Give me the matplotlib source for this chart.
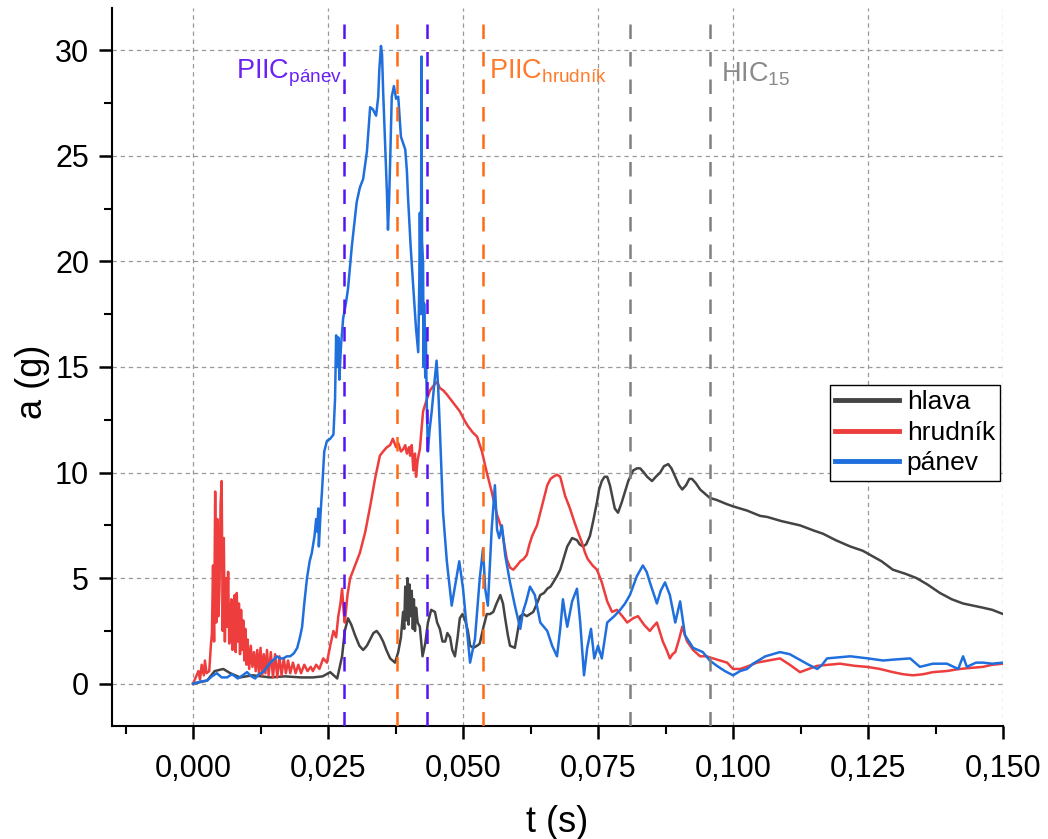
import numpy as np
import matplotlib.pyplot as plt
from matplotlib.ticker import FixedLocator, MultipleLocator

plt.rcParams['font.family'] = ['Liberation Sans', 'DejaVu Sans']
plt.rcParams['mathtext.fontset'] = 'custom'
plt.rcParams['mathtext.rm'] = 'Liberation Sans'
plt.rcParams['mathtext.it'] = 'Liberation Sans:italic'

# hlava (head)
t_hlava = [0.0000, 0.0026, 0.0040, 0.0056, 0.0069, 0.0087, 0.0110, 0.0143, 0.0170, 0.0200,
           0.0222, 0.0240, 0.0254, 0.0267, 0.0276, 0.0281, 0.0287, 0.0293, 0.0300, 0.0308,
           0.0315, 0.0322, 0.0328, 0.0334, 0.0340, 0.0346, 0.0352, 0.0358, 0.0365, 0.0374,
           0.0380, 0.0385, 0.0389, 0.0391, 0.0393, 0.0395, 0.0397, 0.0399, 0.0401, 0.0403,
           0.0405, 0.0407, 0.0409, 0.0411, 0.0413, 0.0416, 0.0420, 0.0425, 0.0430, 0.0435,
           0.0441, 0.0448, 0.0452, 0.0457, 0.0462, 0.0467, 0.0471, 0.0476, 0.0480, 0.0485,
           0.0490, 0.0494, 0.0499, 0.0504, 0.0509, 0.0513, 0.0519, 0.0526, 0.0531, 0.0537,
           0.0544, 0.0550, 0.0556, 0.0562, 0.0569, 0.0574, 0.0578, 0.0583, 0.0587, 0.0596,
           0.0606, 0.0612, 0.0618, 0.0624, 0.0630, 0.0637, 0.0643, 0.0650, 0.0656, 0.0662,
           0.0667, 0.0674, 0.0680, 0.0687, 0.0693, 0.0702, 0.0711, 0.0716, 0.0722, 0.0728,
           0.0735, 0.0741, 0.0748, 0.0752, 0.0757, 0.0762, 0.0767, 0.0772, 0.0776, 0.0781,
           0.0787, 0.0794, 0.0800, 0.0806, 0.0815, 0.0822, 0.0828, 0.0835, 0.0841, 0.0850,
           0.0857, 0.0865, 0.0872, 0.0880, 0.0886, 0.0893, 0.0900, 0.0906, 0.0913, 0.0919,
           0.0924, 0.0931, 0.0939, 0.0948, 0.0957, 0.0970, 0.0989, 0.1000, 0.1026, 0.1050,
           0.1063, 0.1090, 0.1124, 0.1150, 0.1167, 0.1190, 0.1217, 0.1240, 0.1254, 0.1275,
           0.1296, 0.1320, 0.1340, 0.1360, 0.1383, 0.1405, 0.1426, 0.1445, 0.1463, 0.1480,
           0.1500]
a_hlava = [0.0, 0.15, 0.6, 0.7, 0.5, 0.3, 0.4, 0.3, 0.35, 0.3,
           0.3, 0.35, 0.55, 0.25, 1.3, 2.5, 3.1, 2.8, 2.3, 1.8,
           1.6, 1.8, 2.1, 2.4, 2.5, 2.3, 2.0, 1.6, 1.2, 1.0,
           1.5, 2.2, 3.4, 2.6, 4.6, 3.0, 5.0, 2.8, 4.7, 3.2,
           4.4, 2.6, 4.0, 2.5, 3.6, 2.9, 2.7, 1.3, 1.9, 2.9,
           3.5, 3.4, 2.9, 2.6, 2.0, 2.0, 2.4, 2.2, 1.6, 1.3,
           2.2, 3.1, 3.3, 3.0, 2.5, 1.8, 1.7, 1.8, 1.9, 2.6,
           3.3, 3.3, 3.4, 3.8, 4.2, 3.8, 3.1, 2.3, 1.8, 1.7,
           3.2, 3.3, 3.2, 3.3, 3.4, 3.8, 4.2, 4.3, 4.5, 4.6,
           4.8, 5.1, 5.4, 6.0, 6.5, 6.9, 6.8, 6.6, 6.5, 6.6,
           7.0, 7.7, 8.6, 9.2, 9.6, 9.8, 9.8, 9.4, 8.9, 8.3,
           8.1, 8.6, 9.1, 9.6, 10.1, 10.2, 10.2, 10.0, 9.8, 9.6,
           9.8, 10.0, 10.3, 10.4, 10.2, 9.8, 9.4, 9.2, 9.4, 9.7,
           9.7, 9.5, 9.2, 9.0, 8.8, 8.7, 8.5, 8.4, 8.2, 7.95,
           7.9, 7.7, 7.5, 7.25, 7.1, 6.8, 6.5, 6.3, 6.1, 5.8,
           5.4, 5.2, 5.0, 4.7, 4.3, 4.0, 3.8, 3.7, 3.6, 3.5,
           3.3]

# hrudnik (chest)
t_hrudnik = [0.0000, 0.0005, 0.0010, 0.0013, 0.0016, 0.0020, 0.0022, 0.0025, 0.0030, 0.0033,
             0.0035, 0.0037, 0.0039, 0.0041, 0.0043, 0.0045, 0.0047, 0.0049, 0.0051, 0.0053,
             0.0055, 0.0057, 0.0059, 0.0061, 0.0063, 0.0065, 0.0067, 0.0069, 0.0071, 0.0073,
             0.0075, 0.0077, 0.0079, 0.0081, 0.0083, 0.0085, 0.0087, 0.0089, 0.0091, 0.0093,
             0.0095, 0.0097, 0.0099, 0.0101, 0.0104, 0.0107, 0.0110, 0.0113, 0.0116, 0.0119,
             0.0122, 0.0125, 0.0128, 0.0131, 0.0134, 0.0137, 0.0140, 0.0144, 0.0148, 0.0152,
             0.0156, 0.0160, 0.0164, 0.0168, 0.0172, 0.0176, 0.0180, 0.0185, 0.0190, 0.0195,
             0.0200, 0.0206, 0.0212, 0.0218, 0.0222, 0.0228, 0.0234, 0.0241, 0.0248, 0.0254,
             0.0260, 0.0265, 0.0269, 0.0273, 0.0276, 0.0279, 0.0281, 0.0286, 0.0291, 0.0300,
             0.0309, 0.0319, 0.0328, 0.0337, 0.0346, 0.0352, 0.0359, 0.0365, 0.0370, 0.0376,
             0.0380, 0.0385, 0.0389, 0.0393, 0.0396, 0.0400, 0.0402, 0.0405, 0.0408, 0.0411,
             0.0413, 0.0416, 0.0420, 0.0426, 0.0432, 0.0439, 0.0445, 0.0452, 0.0457, 0.0463,
             0.0470, 0.0476, 0.0485, 0.0494, 0.0502, 0.0509, 0.0518, 0.0526, 0.0535, 0.0544,
             0.0553, 0.0563, 0.0572, 0.0577, 0.0581, 0.0587, 0.0593, 0.0600, 0.0606, 0.0612,
             0.0618, 0.0623, 0.0628, 0.0637, 0.0646, 0.0656, 0.0662, 0.0667, 0.0674, 0.0680,
             0.0685, 0.0689, 0.0698, 0.0707, 0.0714, 0.0720, 0.0726, 0.0731, 0.0740, 0.0748,
             0.0757, 0.0767, 0.0776, 0.0785, 0.0795, 0.0804, 0.0815, 0.0824, 0.0835, 0.0846,
             0.0852, 0.0859, 0.0865, 0.0870, 0.0877, 0.0883, 0.0888, 0.0893, 0.0900, 0.0906,
             0.0911, 0.0915, 0.0926, 0.0939, 0.0951, 0.0963, 0.0976, 0.0989, 0.1000, 0.1013,
             0.1030, 0.1044, 0.1065, 0.1087, 0.1105, 0.1124, 0.1140, 0.1156, 0.1178, 0.1198,
             0.1225, 0.1248, 0.1272, 0.1296, 0.1315, 0.1333, 0.1352, 0.1370, 0.1395, 0.1420,
             0.1440, 0.1463, 0.1480, 0.1500]
a_hrudnik = [0.0, 0.3, 0.6, 0.2, 0.9, 0.4, 1.1, 0.5, 0.6, 1.8,
             2.4, 5.6, 2.0, 9.1, 2.9, 7.8, 3.2, 4.5, 8.5, 9.6,
             2.5, 6.9, 2.0, 5.0, 2.7, 5.3, 1.9, 3.1, 4.0, 1.6,
             3.4, 4.2, 1.5, 4.3, 2.0, 3.8, 1.4, 3.5, 1.6, 3.0,
             1.1, 2.6, 0.9, 2.1, 0.7, 1.8, 0.8, 1.5, 0.6, 1.6,
             0.5, 1.7, 0.4, 1.4, 0.5, 1.6, 0.4, 1.5, 0.3, 1.4,
             0.3, 1.3, 0.4, 1.2, 0.5, 1.1, 0.5, 1.0, 0.5, 0.9,
             0.5, 0.9, 0.6, 0.8, 0.6, 0.9, 0.7, 1.2, 1.0, 1.8,
             2.5, 2.2, 3.2, 3.8, 4.5, 3.4, 2.9, 4.2, 5.0, 5.6,
             6.2, 7.2, 8.4, 9.7, 10.8, 11.0, 11.2, 11.3, 11.6, 11.2,
             11.4, 11.0, 11.1, 11.3, 10.9, 11.2, 10.8, 11.3, 10.1, 10.9,
             9.8, 10.6, 11.1, 12.9, 13.4, 13.9, 14.1, 14.3, 14.0, 13.9,
             13.7, 13.5, 13.2, 12.9, 12.5, 12.2, 11.9, 11.7, 11.0, 10.0,
             9.1, 8.0, 7.3, 6.5, 5.9, 5.5, 5.4, 5.6, 5.8, 5.9,
             6.1, 6.6, 7.0, 7.5, 8.4, 9.4, 9.7, 9.8, 9.9, 9.8,
             9.3, 8.9, 8.3, 7.6, 7.1, 6.7, 6.2, 5.9, 5.6, 5.4,
             4.8, 3.9, 3.4, 3.5, 3.2, 2.9, 3.1, 3.2, 2.8, 2.5,
             2.7, 2.9, 2.4, 2.0, 1.6, 1.2, 1.4, 1.5, 2.1, 2.7,
             2.3, 2.0, 1.6, 1.3, 1.3, 1.2, 1.1, 1.0, 0.7, 0.7,
             0.85, 1.0, 1.1, 1.2, 0.9, 0.55, 0.7, 0.85, 0.9, 0.95,
             0.85, 0.8, 0.7, 0.55, 0.45, 0.4, 0.45, 0.55, 0.6, 0.7,
             0.75, 0.8, 0.9, 0.95]

# panev (pelvis)
t_panev = [0.0000, 0.0013, 0.0026, 0.0035, 0.0044, 0.0053, 0.0063, 0.0072, 0.0083, 0.0092,
           0.0100, 0.0108, 0.0115, 0.0122, 0.0130, 0.0137, 0.0143, 0.0150, 0.0155, 0.0161,
           0.0167, 0.0174, 0.0180, 0.0187, 0.0193, 0.0198, 0.0202, 0.0206, 0.0211, 0.0216,
           0.0220, 0.0225, 0.0228, 0.0230, 0.0232, 0.0233, 0.0236, 0.0239, 0.0243, 0.0248,
           0.0254, 0.0260, 0.0263, 0.0265, 0.0267, 0.0269, 0.0271, 0.0274, 0.0278, 0.0283,
           0.0287, 0.0294, 0.0303, 0.0309, 0.0315, 0.0322, 0.0328, 0.0333, 0.0339, 0.0343,
           0.0345, 0.0348, 0.0350, 0.0352, 0.0356, 0.0359, 0.0361, 0.0363, 0.0365, 0.0368,
           0.0372, 0.0376, 0.0380, 0.0385, 0.0393, 0.0396, 0.0398, 0.0403, 0.0407, 0.0413,
           0.0417, 0.0419, 0.0420, 0.0422, 0.0423, 0.0424, 0.0426, 0.0427, 0.0428, 0.0430,
           0.0431, 0.0433, 0.0435, 0.0438, 0.0442, 0.0446, 0.0451, 0.0454, 0.0457, 0.0463,
           0.0470, 0.0479, 0.0485, 0.0493, 0.0500, 0.0507, 0.0513, 0.0522, 0.0531, 0.0537,
           0.0541, 0.0546, 0.0553, 0.0559, 0.0563, 0.0567, 0.0572, 0.0578, 0.0587, 0.0596,
           0.0606, 0.0611, 0.0617, 0.0624, 0.0633, 0.0643, 0.0656, 0.0665, 0.0674, 0.0680,
           0.0685, 0.0689, 0.0693, 0.0702, 0.0711, 0.0717, 0.0724, 0.0730, 0.0737, 0.0743,
           0.0750, 0.0757, 0.0767, 0.0780, 0.0791, 0.0800, 0.0809, 0.0822, 0.0833, 0.0840,
           0.0846, 0.0859, 0.0866, 0.0874, 0.0883, 0.0893, 0.0902, 0.0911, 0.0926, 0.0944,
           0.0957, 0.0970, 0.0985, 0.1000, 0.1013, 0.1026, 0.1037, 0.1060, 0.1087, 0.1105,
           0.1119, 0.1140, 0.1156, 0.1165, 0.1174, 0.1195, 0.1217, 0.1250, 0.1278, 0.1300,
           0.1328, 0.1346, 0.1370, 0.1396, 0.1417, 0.1426, 0.1433, 0.1450, 0.1463, 0.1480,
           0.1500]
a_panev = [0.0, 0.1, 0.15, 0.35, 0.5, 0.3, 0.3, 0.45, 0.25, 0.4,
           0.55, 0.35, 0.25, 0.45, 0.55, 0.8, 1.0, 1.15, 1.3, 1.2,
           1.2, 1.3, 1.3, 1.45, 1.7, 2.2, 2.7, 3.8, 5.0, 5.8,
           6.2, 7.0, 7.8, 7.2, 8.3, 6.5, 8.0, 9.2, 11.0, 11.5,
           11.6, 11.8, 13.5, 16.5, 15.0, 16.4, 14.4, 16.0, 17.3, 18.0,
           18.7, 20.7, 22.8, 23.5, 23.9, 25.2, 27.3, 27.2, 26.9, 27.8,
           29.1, 30.2, 29.8, 28.1, 25.4, 23.3, 21.5, 22.8, 24.7, 27.8,
           28.3, 27.7, 27.8, 25.9, 25.3, 24.3, 23.1, 20.7, 19.1, 16.8,
           15.7, 19.0, 22.3, 17.5, 29.7, 21.0, 19.9, 15.0, 18.0, 14.5,
           16.8, 13.0, 11.0, 12.0, 12.9, 14.0, 15.3, 14.0, 12.1, 8.1,
           5.8, 3.7, 4.6, 5.8, 4.5, 2.6, 1.0, 2.1, 5.0, 6.4,
           4.5, 3.7, 7.3, 9.4, 7.3, 6.9, 7.5, 6.1, 4.8, 3.7,
           2.6, 3.4, 3.9, 4.6, 4.2, 2.9, 2.5, 1.8, 1.3, 2.6,
           4.0, 3.3, 2.7, 3.9, 4.5, 2.9, 0.4, 1.7, 2.6, 1.2,
           1.8, 1.2, 2.9, 3.2, 3.5, 3.8, 4.2, 5.1, 5.6, 5.3,
           4.8, 3.8, 4.4, 4.8, 4.2, 2.9, 3.9, 2.3, 1.7, 1.5,
           1.1, 0.85, 0.6, 0.4, 0.6, 0.7, 0.95, 1.3, 1.5, 1.4,
           1.2, 0.9, 0.7, 0.9, 1.2, 1.25, 1.3, 1.2, 1.1, 1.15,
           1.2, 0.8, 0.95, 0.95, 0.7, 1.3, 0.8, 1.0, 1.0, 0.95,
           1.0]

# vertical markers (PIIC pánev, PIIC hrudník, HIC15 windows)
t_piic_panev = [0.0280, 0.0433]
t_piic_hrudnik = [0.0378, 0.0537]
t_hic15 = [0.0809, 0.0957]

x_ticks = [0.000, 0.025, 0.050, 0.075, 0.100, 0.125, 0.150]
x_labels = ['0,000', '0,025', '0,050', '0,075', '0,100', '0,125', '0,150']
y_ticks = [0, 5, 10, 15, 20, 25, 30]

fig = plt.figure(figsize=(10.48, 8.39), dpi=100)
ax = fig.add_axes([0.1069, 0.1347, 0.8502, 0.8558])

ax.plot(t_hlava, a_hlava, color='#444444', lw=1.8, label='hlava')
ax.plot(t_hrudnik, a_hrudnik, color='#ee3d3d', lw=1.8, label='hrudník')
ax.plot(t_panev, a_panev, color='#1f6fdd', lw=1.8, label='pánev')

for t in t_piic_panev:
    ax.axvline(t, ymin=0, ymax=0.98, color='#5512f5', lw=1.8, dashes=(5.8, 5.2), zorder=5)
for t in t_piic_hrudnik:
    ax.axvline(t, ymin=0, ymax=0.98, color='#ff6a12', lw=1.8, dashes=(5.8, 5.2), zorder=5)
for t in t_hic15:
    ax.axvline(t, ymin=0, ymax=0.98, color='#808080', lw=1.8, dashes=(5.8, 5.2), zorder=5)

ax.text(0.0080, 28.65, r'PIIC$_{\mathregular{pánev}}$', color='#6a22f5', fontsize=19.5)
ax.text(0.0548, 28.65, r'PIIC$_{\mathregular{hrudník}}$', color='#ff7a2a', fontsize=19.5)
ax.text(0.0978, 28.5, r'HIC$_{\mathregular{15}}$', color='#8a8a8a', fontsize=19.5)

ax.set_xlim(-0.015, 0.150)
ax.set_ylim(-2, 32)
ax.xaxis.set_major_locator(FixedLocator(x_ticks))
ax.set_xticklabels(x_labels)
ax.xaxis.set_minor_locator(MultipleLocator(0.0125))
ax.yaxis.set_major_locator(FixedLocator(y_ticks))
ax.yaxis.set_minor_locator(MultipleLocator(2.5))

ax.spines['top'].set_visible(False)
ax.spines['right'].set_visible(False)
ax.spines['left'].set_linewidth(1.5)
ax.spines['bottom'].set_linewidth(1.5)
ax.tick_params(which='major', length=9.5, width=1.8, labelsize=22)
ax.tick_params(axis='x', which='major', pad=11)
ax.tick_params(axis='y', which='major', pad=7)
ax.tick_params(which='minor', length=5.5, width=1.5)

ax.grid(True, which='major', color='#9a9a9a', linestyle=(0, (3.5, 3)), linewidth=0.9)
ax.set_axisbelow(True)

ax.set_xlabel('t (s)', fontsize=26)
ax.set_ylabel('a (g)', fontsize=26)
ax.xaxis.set_label_coords(0.5, -0.11)
ax.yaxis.set_label_coords(-0.07, 0.48)

leg = ax.legend(loc='upper left', bbox_to_anchor=(0.806, 0.475), fontsize=19,
                fancybox=False, edgecolor='black', framealpha=1,
                handlelength=2.4, handletextpad=0.3, labelspacing=0.25,
                borderpad=0.2, borderaxespad=0)
leg.get_frame().set_linewidth(1.0)
for line in leg.get_lines():
    line.set_linewidth(3.5)

fig.savefig('out.png', dpi=100)
